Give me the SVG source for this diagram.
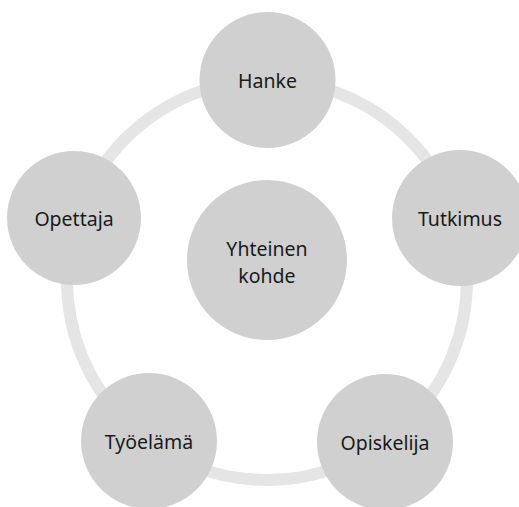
<svg xmlns="http://www.w3.org/2000/svg" width="519" height="507" viewBox="0 0 519 507">
<style>
.node{fill:#d0d0d0}
.lbl{font-family:"Noto Sans","Liberation Sans",sans-serif;font-size:19.5px;fill:#1a1a1a;text-anchor:middle}
.ring{fill:none;stroke:#e5e5e5;stroke-width:12}
</style>
<rect width="519" height="507" fill="#ffffff"/>
<g id="connectors">
<circle class="ring" cx="267" cy="280" r="200"/>
</g>
<g id="center">
<circle class="node" cx="267" cy="260" r="80"/>
<text class="lbl" x="267" y="256">Yhteinen</text>
<text class="lbl" x="267" y="283">kohde</text>
</g>
<g id="hanke">
<circle class="node" cx="267.5" cy="80" r="68"/>
<text class="lbl" x="267.5" y="88">Hanke</text>
</g>
<g id="tutkimus">
<circle class="node" cx="460" cy="218" r="68"/>
<text class="lbl" x="460" y="226">Tutkimus</text>
</g>
<g id="opiskelija">
<circle class="node" cx="385" cy="442" r="68"/>
<text class="lbl" x="385" y="450">Opiskelija</text>
</g>
<g id="tyoelama">
<circle class="node" cx="149" cy="441" r="68"/>
<text class="lbl" x="149" y="449">Työelämä</text>
</g>
<g id="opettaja">
<circle class="node" cx="74" cy="218" r="67"/>
<text class="lbl" x="74" y="226">Opettaja</text>
</g>
</svg>
